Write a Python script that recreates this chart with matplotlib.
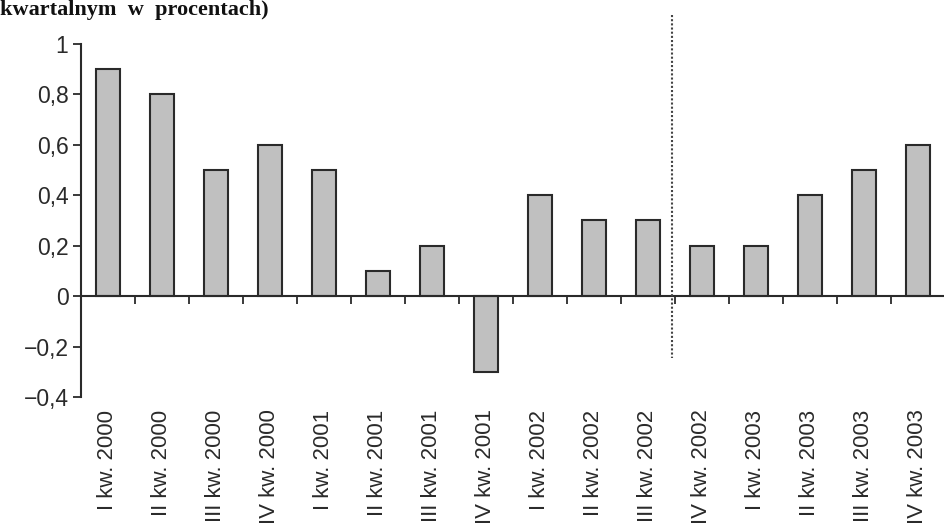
import matplotlib
matplotlib.use("Agg")
import matplotlib.pyplot as plt
from matplotlib.ticker import FixedLocator, FuncFormatter

categories = ["I kw. 2000", "II kw. 2000", "III kw. 2000", "IV kw. 2000",
              "I kw. 2001", "II kw. 2001", "III kw. 2001", "IV kw. 2001",
              "I kw. 2002", "II kw. 2002", "III kw. 2002", "IV kw. 2002",
              "I kw. 2003", "II kw. 2003", "III kw. 2003", "IV kw. 2003"]
values = [0.9, 0.8, 0.5, 0.6, 0.5, 0.1, 0.2, -0.3,
          0.4, 0.3, 0.3, 0.2, 0.2, 0.4, 0.5, 0.6]
yticks = [-0.4, -0.2, 0, 0.2, 0.4, 0.6, 0.8, 1.0]
title_text = "kwartalnym  w  procentach)"

plt.rcParams['font.family'] = ['Liberation Sans', 'DejaVu Sans']
dark = "#2a2a2a"

fig = plt.figure(figsize=(9.45, 5.29), dpi=100)
ax = fig.add_axes([81/945, 1-397/529, 1-81/945, (397-44)/529])

x = list(range(len(values)))
ax.bar(x, values, width=0.44, color="#c0c0c0", edgecolor=dark, linewidth=1.5, zorder=2)

ax.set_xlim(-0.5, len(values) - 0.5)
ax.set_ylim(-0.4, 1.0)

for s in ["top", "right"]:
    ax.spines[s].set_visible(False)
ax.spines["left"].set_color(dark)
ax.spines["left"].set_linewidth(1.5)
ax.spines["bottom"].set_position(("data", 0))
ax.spines["bottom"].set_color(dark)
ax.spines["bottom"].set_linewidth(1.5)
ax.spines["bottom"].set_zorder(3)

ax.yaxis.set_major_locator(FixedLocator(yticks))
ax.yaxis.set_major_formatter(FuncFormatter(
    lambda v, p: ("%g" % round(v, 1)).replace(".", ",").replace("-", "\u2212")))
ax.tick_params(axis="y", direction="out", length=6, width=1.3, color=dark,
               labelsize=16.5, labelcolor=dark, pad=3)

# category-boundary ticks on the zero line
ax.xaxis.set_major_locator(FixedLocator([i + 0.5 for i in range(len(values) - 1)]))
ax.tick_params(axis="x", direction="out", length=6, width=1.3, color=dark,
               labelbottom=False)

# labels at bottom of axes
sec = ax.secondary_xaxis("bottom")
sec.set_xticks(x)
sec.set_xticklabels(categories, rotation=90, va="top", ha="center")
sec.tick_params(axis="x", length=0, pad=9, labelsize=16, labelcolor=dark)
sec.spines["bottom"].set_visible(False)

# dotted separator line
ax.plot([10.44, 10.44], [1.115, -0.246], color="#444444", linestyle=(0, (1, 1)),
        linewidth=1.5, clip_on=False, zorder=4)

fig.text(0.0, 1 - 15/529, title_text, family=["Liberation Serif", "DejaVu Serif"],
         fontweight="bold", fontsize=16, color="#111111", ha="left", va="baseline")

fig.savefig("out.png", dpi=100)
